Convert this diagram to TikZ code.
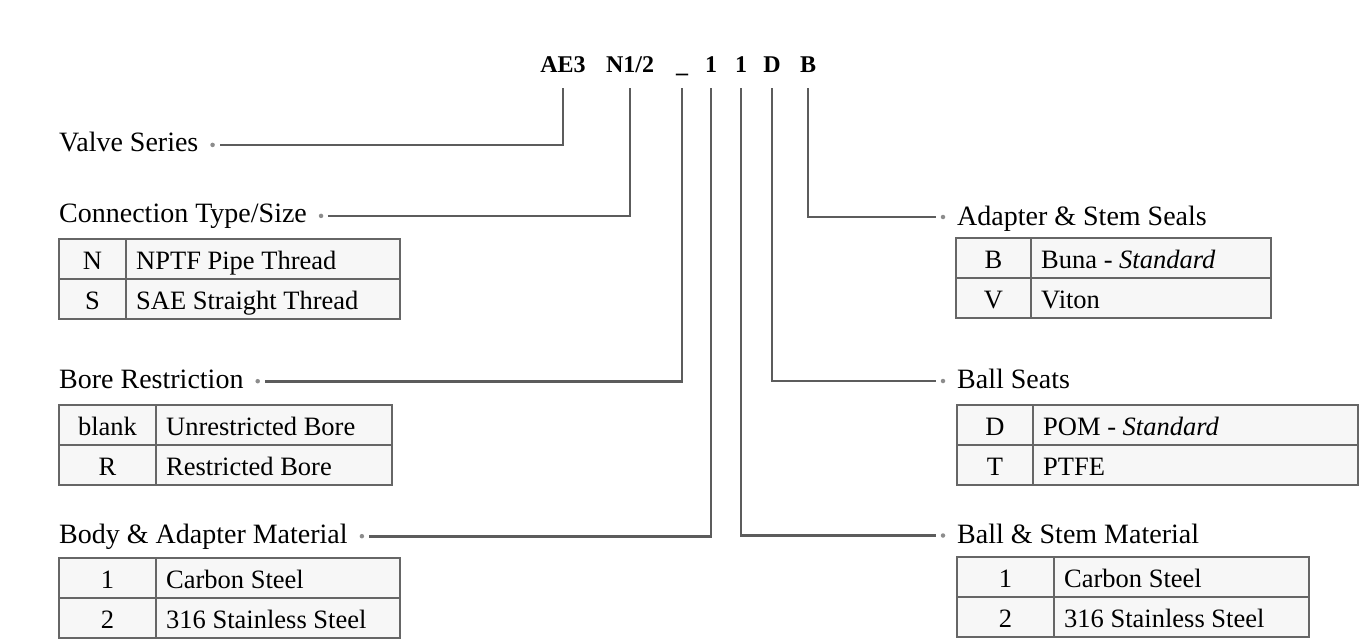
\documentclass[tikz,border=0pt]{standalone}
\usepackage{fontspec}
\setmainfont{Liberation Serif}
\definecolor{linegray}{HTML}{5C5C5C}
\definecolor{tblgray}{HTML}{666666}
\definecolor{dotgray}{HTML}{8C8C8C}
\definecolor{cellfill}{HTML}{F7F7F7}
\tikzset{
  hdr/.style={font=\fontsize{24}{28}\selectfont\bfseries, inner sep=0pt, anchor=base},
  lab/.style={font=\fontsize{28}{33}\selectfont, inner sep=0pt, anchor=base west},
  cell/.style={font=\fontsize{26.5}{31}\selectfont, inner sep=0pt},
  tbl/.style={draw=tblgray, line width=2pt},
  conn/.style={draw=linegray, line width=2.8pt, shorten >=7pt},
  dotmark/.style={circle, fill=dotgray, inner sep=0pt, minimum size=4.5pt},
}
% #1 name, #2 left, #3 top, #4 divider, #5 right, #6 code1, #7 desc1, #8 code2, #9 desc2
\newcommand\codetable[9]{%
  \draw[tbl, fill=cellfill] (#2,#3) rectangle (#5,#3+80);
  \draw[tbl] (#2,#3+40) -- (#5,#3+40);
  \draw[tbl] (#4,#3) -- (#4,#3+80);
  \node[cell, anchor=base] (#1c1) at ({(#2+#4)/2},#3+30) {#6};
  \node[cell, anchor=base west] (#1d1) at (#4+10,#3+30) {#7};
  \node[cell, anchor=base] (#1c2) at ({(#2+#4)/2},#3+70) {#8};
  \node[cell, anchor=base west] (#1d2) at (#4+10,#3+70) {#9};
}
\begin{document}
\begin{tikzpicture}[x=1pt,y=-1pt]
\useasboundingbox[fill=white] (0,0) rectangle (1361,640);

% header code
\node[hdr] (h1) at (563,72) {AE3};
\node[hdr] (h2) at (630,72) {N1/2};
\node[hdr] (h3) at (682,72) {\_};
\node[hdr] (h4) at (711,72) {1};
\node[hdr] (h5) at (741,72) {1};
\node[hdr] (h6) at (772,72) {D};
\node[hdr] (h7) at (808,72) {B};
\coordinate (top) at (0,88);

% left labels
\node[lab] (l1) at (59,151.7) {Valve Series};
\node[lab] (l2) at (59,222.7) {Connection Type/Size};
\node[lab] (l3) at (59,388) {Bore Restriction};
\node[lab] (l4) at (59,543) {Body \& Adapter Material};
% right labels
\node[lab] (r1) at (957,225.5) {Adapter \& Stem Seals};
\node[lab] (r2) at (957,388) {Ball Seats};
\node[lab] (r3) at (957,543) {Ball \& Stem Material};

% dots (at mid height of the lower-case letters)
\node[dotmark] (d1) at ([shift={(14pt,6.8pt)}]l1.base east) {};
\node[dotmark] (d2) at ([shift={(14pt,6.8pt)}]l2.base east) {};
\node[dotmark] (d3) at ([shift={(14pt,6.8pt)}]l3.base east) {};
\node[dotmark] (d4) at ([shift={(14pt,6.8pt)}]l4.base east) {};
\node[dotmark] (d7) at ([shift={(-14pt,8.5pt)}]r1.base west) {};
\node[dotmark] (d6) at ([shift={(-14pt,7pt)}]r2.base west) {};
\node[dotmark] (d5) at ([shift={(-14pt,7.5pt)}]r3.base west) {};

% connectors
\draw[conn] (h1.south |- top) |- (d1.center);
\draw[conn] (h2.south |- top) |- (d2.center);
\draw[conn] (h3.south |- top) |- (d3.center);
\draw[conn] (h4.south |- top) |- (d4.center);
\draw[conn] (h5.south |- top) |- (d5.center);
\draw[conn] (h6.south |- top) |- (d6.center);
\draw[conn] (h7.south |- top) |- (d7.center);

% tables
\codetable{conn}{59}{239}{126}{400}{N}{NPTF Pipe Thread}{S}{SAE Straight Thread}
\codetable{bore}{59}{405}{156}{392}{blank}{Unrestricted Bore}{R}{Restricted Bore}
\codetable{body}{59}{558}{156}{400}{1}{Carbon Steel}{2}{316 Stainless Steel}
\codetable{seal}{956}{238}{1031}{1271}{B}{Buna - \textit{Standard}}{V}{Viton}
\codetable{seat}{957}{405}{1033}{1358}{D}{POM - \textit{Standard}}{T}{PTFE}
\codetable{stem}{957}{557}{1054}{1309}{1}{Carbon Steel}{2}{316 Stainless Steel}
\end{tikzpicture}
\end{document}
